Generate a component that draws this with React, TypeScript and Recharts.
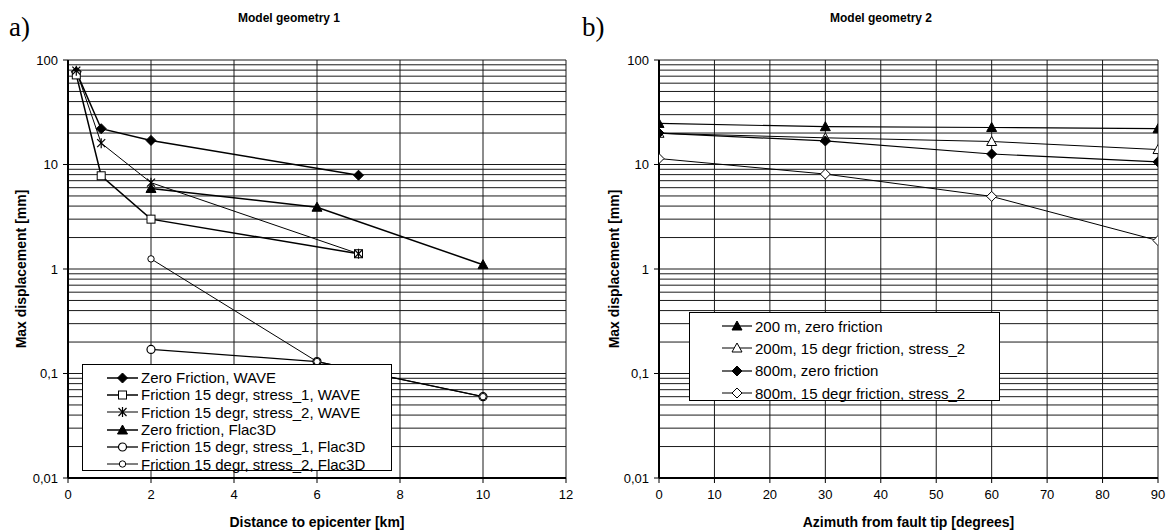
import { LineChart, Line, XAxis, YAxis, CartesianGrid, Legend, ReferenceLine } from 'recharts';

const FONT = '"Liberation Sans", Arial, sans-serif';

// a) Model geometry 1 – distance to epicenter [km] vs max displacement [mm]
const distWave = [0.2, 0.8, 2, 7];
const zeroFrictionWave = [77, 22, 17, 7.9];
const stress1Wave = [72, 7.8, 3.0, 1.4];
const stress2Wave = [79, 16, 6.7, 1.4];
const distFlac = [2, 6, 10];
const zeroFrictionFlac = [5.9, 3.9, 1.1];
const stress1Flac = [0.17, 0.13, 0.06];
const stress2Flac = [1.25, 0.13, 0.06];
const distTicks = [0, 2, 4, 6, 8, 10, 12];

// b) Model geometry 2 – azimuth from fault tip [degrees]
const azimuth = [0, 30, 60, 90];
const zero200 = [24.7, 23, 22.6, 22];
const stress2At200 = [19.9, 18, 16.6, 13.9];
const zero800 = [20, 16.8, 12.6, 10.6];
const stress2At800 = [11.4, 8.1, 4.95, 1.87];
const azimuthTicks = [0, 10, 20, 30, 40, 50, 60, 70, 80, 90];

const dispTicks = [0.01, 0.1, 1, 10, 100];
const dispGrid = [
  0.01, 0.02, 0.03, 0.04, 0.05, 0.06, 0.07, 0.08, 0.09,
  0.1, 0.2, 0.3, 0.4, 0.5, 0.6, 0.7, 0.8, 0.9,
  1, 2, 3, 4, 5, 6, 7, 8, 9,
  10, 20, 30, 40, 50, 60, 70, 80, 90, 100,
];

type Kind =
  | 'diamond'
  | 'diamondOpen'
  | 'square'
  | 'star'
  | 'triangle'
  | 'triangleOpen'
  | 'circle'
  | 'circleSmall';

interface Series {
  name: string;
  x: number[];
  y: number[];
  kind: Kind;
  width: number;
}

const seriesA: Series[] = [
  { name: 'Zero Friction, WAVE', x: distWave, y: zeroFrictionWave, kind: 'diamond', width: 1.5 },
  { name: 'Friction 15 degr, stress_1, WAVE', x: distWave, y: stress1Wave, kind: 'square', width: 1.5 },
  { name: 'Friction 15 degr, stress_2, WAVE', x: distWave, y: stress2Wave, kind: 'star', width: 1 },
  { name: 'Zero friction, Flac3D', x: distFlac, y: zeroFrictionFlac, kind: 'triangle', width: 1.5 },
  { name: 'Friction 15 degr, stress_1, Flac3D', x: distFlac, y: stress1Flac, kind: 'circle', width: 1.3 },
  { name: 'Friction 15 degr, stress_2, Flac3D', x: distFlac, y: stress2Flac, kind: 'circleSmall', width: 1 },
];

const seriesB: Series[] = [
  { name: '200 m, zero friction', x: azimuth, y: zero200, kind: 'triangle', width: 1.2 },
  { name: '200m, 15 degr friction, stress_2', x: azimuth, y: stress2At200, kind: 'triangleOpen', width: 1 },
  { name: '800m, zero friction', x: azimuth, y: zero800, kind: 'diamond', width: 1.2 },
  { name: '800m, 15 degr friction, stress_2', x: azimuth, y: stress2At800, kind: 'diamondOpen', width: 1 },
];

function Marker({ kind, cx, cy }: { kind: Kind; cx: number; cy: number }) {
  switch (kind) {
    case 'diamond':
    case 'diamondOpen': {
      const s = 5;
      return (
        <polygon
          points={`${cx},${cy - s} ${cx + s},${cy} ${cx},${cy + s} ${cx - s},${cy}`}
          fill={kind === 'diamond' ? '#000' : '#fff'}
          stroke="#000"
          strokeWidth={1}
        />
      );
    }
    case 'square':
      return <rect x={cx - 4} y={cy - 4} width={8} height={8} fill="#fff" stroke="#000" strokeWidth={1} />;
    case 'star':
      return (
        <g stroke="#000" strokeWidth={1.2}>
          <line x1={cx - 4} y1={cy - 4} x2={cx + 4} y2={cy + 4} />
          <line x1={cx - 4} y1={cy + 4} x2={cx + 4} y2={cy - 4} />
          <line x1={cx} y1={cy - 5} x2={cx} y2={cy + 5} />
        </g>
      );
    case 'triangle':
    case 'triangleOpen':
      return (
        <polygon
          points={`${cx},${cy - 5} ${cx + 5},${cy + 4} ${cx - 5},${cy + 4}`}
          fill={kind === 'triangle' ? '#000' : '#fff'}
          stroke="#000"
          strokeWidth={1}
        />
      );
    case 'circle':
      return <circle cx={cx} cy={cy} r={4} fill="#fff" stroke="#000" strokeWidth={1.2} />;
    case 'circleSmall':
      return <circle cx={cx} cy={cy} r={3.2} fill="#fff" stroke="#000" strokeWidth={1} />;
  }
  return null;
}

const fmtDisp = (v: number) => String(v).replace('.', ',');

function LegendBox({
  items,
  rowHeight,
  padTop,
  padLeft,
  sample,
}: {
  items: Series[];
  rowHeight: number;
  padTop: number;
  padLeft: number;
  sample: number;
}) {
  return (
    <div
      style={{
        boxSizing: 'border-box',
        border: '1px solid #000',
        background: '#fff',
        paddingTop: padTop,
        paddingLeft: padLeft,
        fontFamily: FONT,
        fontSize: 15,
        color: '#000',
        width: '100%',
        height: '100%',
      }}
    >
      {items.map((s) => (
        <div key={s.name} style={{ display: 'flex', alignItems: 'center', height: rowHeight, whiteSpace: 'nowrap' }}>
          <svg width={sample + 3} height={12} style={{ flex: 'none' }}>
            <line x1={0} y1={6} x2={sample} y2={6} stroke="#000" strokeWidth={s.width} />
            <Marker kind={s.kind} cx={sample / 2} cy={6} />
          </svg>
          <span>{s.name}</span>
        </div>
      ))}
    </div>
  );
}

const tickStyle = { fontSize: 13, fill: '#000', fontFamily: FONT };
const axisLabelStyle = { fontSize: 14, fontWeight: 'bold', fill: '#000', fontFamily: FONT };

function DispChart({
  series,
  xTicks,
  xDomain,
  xLabel,
  width,
  yAxisWidth,
  marginRight,
  yLabelOffset,
  legend,
}: {
  series: Series[];
  xTicks: number[];
  xDomain: [number, number];
  xLabel: string;
  width: number;
  yAxisWidth: number;
  marginRight: number;
  yLabelOffset: number;
  legend: { left: number; top: number; width: number; height: number; rowHeight: number; padTop: number; padLeft: number; sample: number };
}) {
  return (
    <LineChart width={width} height={532} margin={{ top: 60, right: marginRight, bottom: 0, left: 0 }}>
      <CartesianGrid stroke="#1a1a1a" strokeWidth={1} horizontal={false} verticalValues={xTicks} />
      {dispGrid.map((v) => (
        <ReferenceLine key={v} y={v} stroke="#1a1a1a" strokeWidth={1} ifOverflow="visible" />
      ))}
      <XAxis
        dataKey="x"
        type="number"
        domain={xDomain}
        ticks={xTicks}
        allowDataOverflow
        height={54}
        tick={tickStyle}
        tickSize={5}
        tickMargin={7}
        axisLine={{ stroke: '#000', strokeWidth: 2 }}
        tickLine={{ stroke: '#000' }}
        label={{ value: xLabel, position: 'insideBottom', offset: 5, style: axisLabelStyle }}
      />
      <YAxis
        type="number"
        scale="log"
        domain={[0.01, 100]}
        ticks={dispTicks}
        allowDataOverflow
        width={yAxisWidth}
        tick={tickStyle}
        tickSize={5}
        tickMargin={5}
        tickFormatter={fmtDisp}
        axisLine={{ stroke: '#000', strokeWidth: 2 }}
        tickLine={{ stroke: '#000' }}
        label={{
          value: 'Max displacement [mm]',
          angle: -90,
          position: 'insideLeft',
          offset: yLabelOffset,
          style: { ...axisLabelStyle, textAnchor: 'middle' },
        }}
      />
      <Legend
        layout="vertical"
        align="center"
        verticalAlign="middle"
        wrapperStyle={{ left: legend.left, top: legend.top, width: legend.width, height: legend.height }}
        content={() => (
          <LegendBox
            items={series}
            rowHeight={legend.rowHeight}
            padTop={legend.padTop}
            padLeft={legend.padLeft}
            sample={legend.sample}
          />
        )}
      />
      {series.map((s) => (
        <Line
          key={s.name}
          name={s.name}
          data={s.x.map((x, i) => ({ x, y: s.y[i] }))}
          dataKey="y"
          type="linear"
          stroke="#000"
          strokeWidth={s.width}
          isAnimationActive={false}
          dot={(p: any) => <Marker key={`${s.kind}-${p.index}`} kind={s.kind} cx={p.cx} cy={p.cy} />}
          activeDot={false}
        />
      ))}
    </LineChart>
  );
}

export default function App() {
  return (
    <div style={{ position: 'absolute', left: 0, top: 0, width: 1169, height: 532, background: '#fff', overflow: 'hidden' }}>
      <div style={{ position: 'absolute', left: 9, top: 14, fontFamily: '"Liberation Serif", "Times New Roman", serif', fontSize: 27, lineHeight: '27px' }}>
        a)
      </div>
      <div style={{ position: 'absolute', left: 582, top: 14, fontFamily: '"Liberation Serif", "Times New Roman", serif', fontSize: 27, lineHeight: '27px' }}>
        b)
      </div>
      <div style={{ position: 'absolute', left: 238, top: 12, fontFamily: FONT, fontSize: 12, fontWeight: 'bold', lineHeight: '12px' }}>
        Model geometry 1
      </div>
      <div style={{ position: 'absolute', left: 830, top: 12, fontFamily: FONT, fontSize: 12, fontWeight: 'bold', lineHeight: '12px' }}>
        Model geometry 2
      </div>
      <div style={{ position: 'absolute', left: 0, top: 0 }}>
        <DispChart
          series={seriesA}
          xTicks={distTicks}
          xDomain={[0, 12]}
          xLabel="Distance to epicenter [km]"
          width={580}
          yAxisWidth={68}
          marginRight={14}
          yLabelOffset={21.5}
          legend={{ left: 82, top: 364, width: 310, height: 107, rowHeight: 17.3, padTop: 4, padLeft: 24, sample: 31 }}
        />
      </div>
      <div style={{ position: 'absolute', left: 580, top: 0 }}>
        <DispChart
          series={seriesB}
          xTicks={azimuthTicks}
          xDomain={[0, 90]}
          xLabel="Azimuth from fault tip [degrees]"
          width={589}
          yAxisWidth={79}
          marginRight={11}
          yLabelOffset={34.5}
          legend={{ left: 109, top: 312, width: 311, height: 89, rowHeight: 22.3, padTop: 2, padLeft: 32, sample: 30 }}
        />
      </div>
    </div>
  );
}
